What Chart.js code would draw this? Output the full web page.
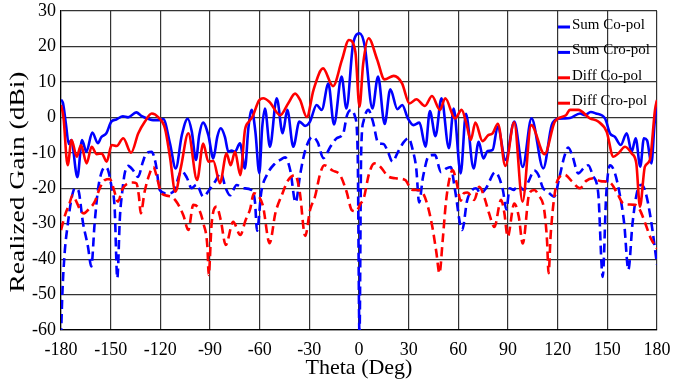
<!DOCTYPE html>
<html>
<head>
<meta charset="utf-8">
<script src="https://cdn.jsdelivr.net/npm/chart.js@4/dist/chart.umd.min.js"></script>
<style>
	html, body { margin: 0; padding: 0; background: #fff; }
	#wrap { width: 673px; height: 385px; }
</style>
</head>
<body>
<div id="wrap"><canvas id="chart1" width="673" height="385"></canvas></div>
<script>
// Axis ticks
const thetaTicks = [-180, -150, -120, -90, -60, -30, 0, 30, 60, 90, 120, 150, 180];
const gainTicks = [-60, -50, -40, -30, -20, -10, 0, 10, 20, 30];

// Sum Co-pol (theta, gain)
const sumCoTheta = [-180, -178.8, -177, -175.3, -173.8, -170.1, -167.3, -164.7, -161.1, -157.7, -155.7, -152.6, -149.6, -146.6, -142.6, -139.5, -134.5, -131.5, -127, -124.4, -120.4, -118.2, -114.2, -110.7, -107, -103.5, -101, -98.5, -96.5, -94.2, -91, -88, -85.6, -83.5, -81, -78.9, -77, -74.9, -71.9, -68.9, -66.8, -64.8, -62.6, -60.2, -58.5, -56.8, -53.8, -49.7, -46.1, -43.3, -39.7, -36, -32.6, -29.6, -25.6, -22.5, -18.5, -15.1, -10.5, -7.6, -3.5, 0.4, 3.5, 8.1, 11.5, 15.5, 18.9, 23.2, 26.1, 29.5, 32.9, 36.5, 40.2, 42.8, 46.2, 49.8, 54.3, 57.2, 61.4, 64.6, 69.2, 72.3, 75.1, 77.7, 80.7, 83.8, 88.5, 93.8, 98.9, 104.2, 111.3, 116.4, 120.4, 124, 127.4, 133.5, 136.5, 140, 143.1, 148.6, 151.6, 154.6, 158.1, 161.7, 164.7, 167.1, 169.9, 172.1, 174, 176.6, 178.5, 180];
const sumCoGain = [5.0, 4.0, -2, -7.5, -6.4, -16.9, -6.4, -9.7, -4.3, -7.3, -5.6, -4.5, -1.2, -0.6, 0.3, 0, 1.4, 0.4, -0.5, -0.8, -0.8, -0.5, -7.3, -14.4, -5, -0.4, -4, -12, -5, -1.5, -5, -11.6, -5.5, -3.1, -5.5, -9.7, -9.4, -9.7, -7.3, -14.4, -3, 2.1, -4, -15.8, -3, 2.5, -8.3, 5.4, -4.5, 2.1, -8.3, -1.2, -2.4, -1.2, 3.5, 2.1, 9.5, -2.0, 11.5, 2.5, 20.9, 23.7, 20, 2.5, 11.5, -1.9, 7.9, 2.3, 3.5, -0.3, -2.2, -1.5, -8.3, 1.8, -5.3, 5.4, -8.7, 2.5, -15.8, 1.0, -14.4, -6.9, -11.6, -9.5, -9.2, -2.6, -12, -1.2, -14, -0.3, -14.4, -2.2, -0.4, -0.3, -0.2, 1.1, 0.6, 1.5, 1.1, -0.3, -4.5, -5.5, -7.8, -4.5, -9.7, -5.9, -13.9, -5.9, -6.5, -13, -2, 4.5];

// Sum Cro-pol
const sumCroTheta = [-180, -179.2, -177.8, -175.8, -173.8, -171.5, -169.6, -166.7, -163.7, -161.7, -159.7, -157.7, -155.7, -153.3, -151.5, -149.5, -147.6, -146, -144.4, -143, -141.5, -139.4, -136.5, -133.5, -130.5, -128.5, -125.3, -122.8, -120.3, -116, -112.2, -107.1, -104, -101.1, -98.1, -94, -90.5, -87, -83.5, -80.5, -77.9, -73.9, -69.9, -65, -62.8, -61.6, -59, -55.7, -50.7, -47.6, -44.6, -41.5, -38.3, -35.5, -32.6, -28, -25, -21.5, -17.3, -13.5, -9.5, -7.3, -4.8, -2.4, -0.8, 0.3, 1.3, 2.8, 5.6, 8.3, 11.7, 14.8, 17.3, 20.2, 23.5, 27, 29.9, 32.6, 34.6, 36.3, 38.6, 42.3, 45.8, 49.6, 52.5, 55.4, 58, 62.3, 65.3, 67.5, 70.7, 73.5, 76.7, 82.3, 86.9, 89, 91, 93.5, 95.9, 99.8, 102.5, 105.9, 108.3, 111, 114, 117.9, 121, 124, 126.4, 129, 132.4, 136, 138.5, 141.3, 144.5, 147.2, 149.3, 151.6, 154, 157, 160.2, 162.7, 165.2, 168, 170.7, 173, 176.2, 180];
const sumCroGain = [-62, -50, -38.3, -29.8, -23.3, -20, -20.5, -29.8, -36.5, -42.1, -30, -20.5, -15.8, -14, -15, -19.5, -25.5, -45.4, -28, -21, -15.8, -13.7, -14.9, -16.8, -12.5, -10.2, -9.7, -13, -20.5, -21.5, -21, -15.2, -17, -20, -19, -22.4, -20.5, -18.2, -15.8, -20, -22, -19.1, -20, -20.5, -24, -32, -21, -16.3, -13, -12, -11.3, -15, -24, -16, -9.5, -5.5, -7, -11.5, -8.3, -5.9, -4.5, 0.5, 2.1, 0.2, -10, -62, -10, -1, 2.1, -1, -7.3, -7.5, -9.5, -12.5, -9.8, -7, -5.9, -9.5, -14.5, -24, -17, -10.8, -10.6, -15.5, -14.5, -14, -20.5, -31.8, -23.5, -21, -20, -21.5, -20, -15.5, -20.5, -26, -20, -20.5, -19.3, -20.5, -18, -15, -16.2, -19.8, -21, -22.4, -17, -11.1, -8.5, -11, -15.8, -14.2, -13.5, -16.5, -21.4, -45, -22, -13.5, -15, -20.5, -30, -43, -30, -21, -19, -21, -28.5, -41.5];

// Diff Co-pol
const diffCoTheta = [-180, -178.5, -176, -173.6, -170.5, -167.9, -164.5, -161.5, -158.4, -155.4, -152.4, -149.4, -146.4, -142.4, -137.7, -133.3, -129.3, -125.2, -121.2, -117.2, -114.2, -110.9, -107.5, -103.1, -97.8, -94.1, -91, -88, -84, -80, -77.5, -74.9, -71.7, -68.9, -66.5, -64.3, -60.5, -57.8, -54.2, -47.6, -42.7, -38.6, -35.6, -31.5, -27.5, -21.7, -15.7, -10.3, -6.1, -2.2, 0.3, 2.5, 5.8, 10.9, 15.4, 21, 26, 30.5, 34.7, 39.8, 44.1, 48.9, 52.1, 58, 62, 65, 67.5, 70.3, 74.6, 78.1, 80.7, 83.9, 88.4, 93.7, 98.8, 104, 112.1, 118.4, 125, 127.4, 132.4, 139.5, 144.5, 149.6, 153.6, 156.6, 160.7, 164.7, 167.5, 169.7, 172.7, 175.7, 178.8, 180];
const diffCoGain = [3.5, 0, -13.5, -6.4, -11.1, -7.8, -13, -8.3, -10.4, -10.2, -12.5, -7.8, -8.1, -5.9, -10, -4.5, -1.2, 1.1, 0, -3.1, -11.1, -21, -13.9, -4.5, -17.7, -7.4, -12.5, -12.3, -18.6, -10.2, -13.5, -9.7, -16.3, -3.6, -1.2, 0.2, 4.7, 5.4, 4.4, 0.6, 4, 6.7, 4.9, 0.1, 7.7, 13.8, 8.8, 16.2, 21.8, 18.5, 3, 15, 22.3, 16.4, 10.7, 11.7, 9.6, 3.9, 5.1, 3.2, 6, 2.1, 5.4, -0.3, 2.1, -2, -6.4, -1.5, -6.7, -5, -4.5, -1.8, -13.7, -1.4, -23.8, -2.2, -10.4, -1.1, 0.6, 2.1, 2.1, -0.3, -1.2, -4.1, -11.1, -10.2, -8.3, -10.2, -13, -25.2, -13.9, -12, 2.1, 4.9];

// Diff Cro-pol
const diffCroTheta = [-180, -177.5, -175, -173, -170.5, -168, -166.2, -163, -159.6, -156.6, -153.6, -150.5, -148, -145.6, -143, -139.5, -136.5, -134.5, -133, -131.8, -129.5, -126.4, -124.2, -122, -119.4, -115, -111.1, -106.1, -103.1, -100.1, -97.2, -94, -91.5, -90.8, -89, -86, -83.5, -80.5, -76, -71.7, -68.5, -65.8, -63.5, -60.5, -58, -54, -50.5, -46.6, -42.7, -38.6, -35.8, -32.5, -29.5, -26.6, -23.5, -21, -16, -11.4, -7.5, -4.3, -1.8, 0.8, 3, 6, 9.3, 13, 17.4, 22, 28, 31.8, 35, 38.5, 41.5, 44.3, 46.7, 48.6, 50.5, 52.5, 55, 56.6, 59, 61.4, 63.4, 65.5, 69.6, 72.6, 76, 78.5, 81.8, 85.8, 87.8, 89.8, 93.8, 96.5, 98.9, 102.9, 105.9, 108.5, 111.9, 113.6, 114.5, 115.8, 117.8, 120, 124.3, 128.5, 133.5, 137, 141.5, 146, 151.6, 155.5, 159.6, 163, 166.7, 169.5, 173, 176.3, 180];
const diffCroGain = [-31.8, -27.5, -24.5, -22, -24, -26.5, -27.1, -25.8, -23.8, -20, -17.7, -17.4, -20.5, -23.8, -20.3, -18.6, -18.4, -18.6, -22, -27.1, -21, -15.8, -14, -17, -21.4, -22.2, -23.3, -27.6, -31.8, -24.7, -25.5, -29.9, -37, -44.5, -29.9, -25.2, -29, -36, -29.5, -33.2, -29, -26, -21.4, -22.3, -25, -35.5, -27, -21.9, -17.7, -16.3, -21, -33.5, -26, -22.4, -16, -13.5, -15, -16.3, -21, -26.2, -26.5, -24.5, -22.6, -16, -13, -14, -16.6, -17.2, -17.7, -20.4, -20.5, -21.3, -25, -30.9, -38, -44, -35, -24, -16.5, -14.9, -18.5, -23.5, -21.4, -21.2, -23.3, -19.6, -23, -27, -30.9, -23.3, -27, -33.7, -24.3, -28, -35.6, -21.4, -20.5, -22, -26.2, -35, -44, -33, -23, -17.7, -16.2, -18, -20, -18, -17.2, -18, -18.4, -21, -24.3, -24.6, -24.7, -26, -30, -34.2, -37];

(() => {
	'use strict'

	const blue = '#0000ff';
	const red = '#ff0000';
	const serif = "'Liberation Serif', 'Times New Roman', serif";

	// build {x, y} points from two arrays
	function points(theta, gain) {
		return theta.map((t, i) => ({ x: t, y: gain[i] }));
	}

	// legend drawn inside the plot, top right, plus the y axis title
	const extras = {
		id: 'extras',
		afterDraw(chart) {
			const ctx = chart.ctx;
			ctx.save();
			ctx.font = '15px ' + serif;
			ctx.textBaseline = 'middle';
			ctx.textAlign = 'left';
			ctx.fillStyle = '#000';
			chart.data.datasets.forEach((ds, i) => {
				const y = 25 + i * 25.4;
				ctx.strokeStyle = ds.borderColor;
				ctx.lineWidth = 3;
				ctx.setLineDash([]);
				ctx.beginPath();
				ctx.moveTo(558, y + 2);
				ctx.lineTo(570, y + 2);
				ctx.stroke();
				ctx.fillText(ds.label, 572, y);
			});

			// y title, stretched a little like the original figure
			const title = 'Realized Gain (dBi)';
			ctx.font = '22px ' + serif;
			ctx.textAlign = 'center';
			ctx.translate(18, 182);
			ctx.rotate(-Math.PI / 2);
			ctx.scale(221 / ctx.measureText(title).width, 1);
			ctx.fillText(title, 0, 0);
			ctx.restore();
		}
	};

	const chart1 = document.getElementById('chart1');
	const configChart1 = {
		type: 'line',
		data: {
			datasets: [
				{ label: 'Sum Co-pol', data: points(sumCoTheta, sumCoGain), borderColor: blue, order: 4 },
				{ label: 'Sum Cro-pol', data: points(sumCroTheta, sumCroGain), borderColor: blue, borderDash: [9, 5], order: 3 },
				{ label: 'Diff Co-pol', data: points(diffCoTheta, diffCoGain), borderColor: red, order: 2 },
				{ label: 'Diff Cro-pol', data: points(diffCroTheta, diffCroGain), borderColor: red, borderDash: [9, 5], order: 1 }
			]
		},
		options: {
			responsive: false,
			animation: false,
			events: [],
			// plot box: left 61, top 11, right 657, bottom 330
			layout: {
				padding: { top: 11, right: 16, left: 0, bottom: 0 }
			},
			elements: {
				point: { radius: 0 },
				line: { borderWidth: 2.6, cubicInterpolationMode: 'monotone', fill: false }
			},
			plugins: {
				legend: { display: false },
				tooltip: { enabled: false }
			},
			scales: {
				x: {
					type: 'linear',
					min: thetaTicks[0],
					max: thetaTicks[thetaTicks.length - 1],
					afterBuildTicks: s => { s.ticks = thetaTicks.map(v => ({ value: v })); },
					afterFit: s => { s.height = 55; s.paddingLeft = 0; s.paddingRight = 0; },
					ticks: { color: '#000', padding: 9, maxRotation: 0, font: { family: serif, size: 18 } },
					grid: { color: '#333', lineWidth: 1.2, drawTicks: false },
					border: { color: '#000', width: 1.2 },
					title: {
						display: true,
						text: 'Theta (Deg)',
						color: '#000',
						font: { family: serif, size: 22 },
						padding: { top: 0, bottom: 4 }
					}
				},
				y: {
					min: gainTicks[0],
					max: gainTicks[gainTicks.length - 1],
					afterBuildTicks: s => { s.ticks = gainTicks.map(v => ({ value: v })); },
					afterFit: s => { s.width = 61; s.paddingTop = 0; s.paddingBottom = 0; },
					ticks: { color: '#000', padding: 5, font: { family: serif, size: 18 } },
					grid: { color: '#333', lineWidth: 1.2, drawTicks: false },
					border: { color: '#000', width: 1.2 }
				}
			}
		},
		plugins: [extras]
	};

	const myChart1 = new Chart(chart1, configChart1);
})()
</script>
</body>
</html>
